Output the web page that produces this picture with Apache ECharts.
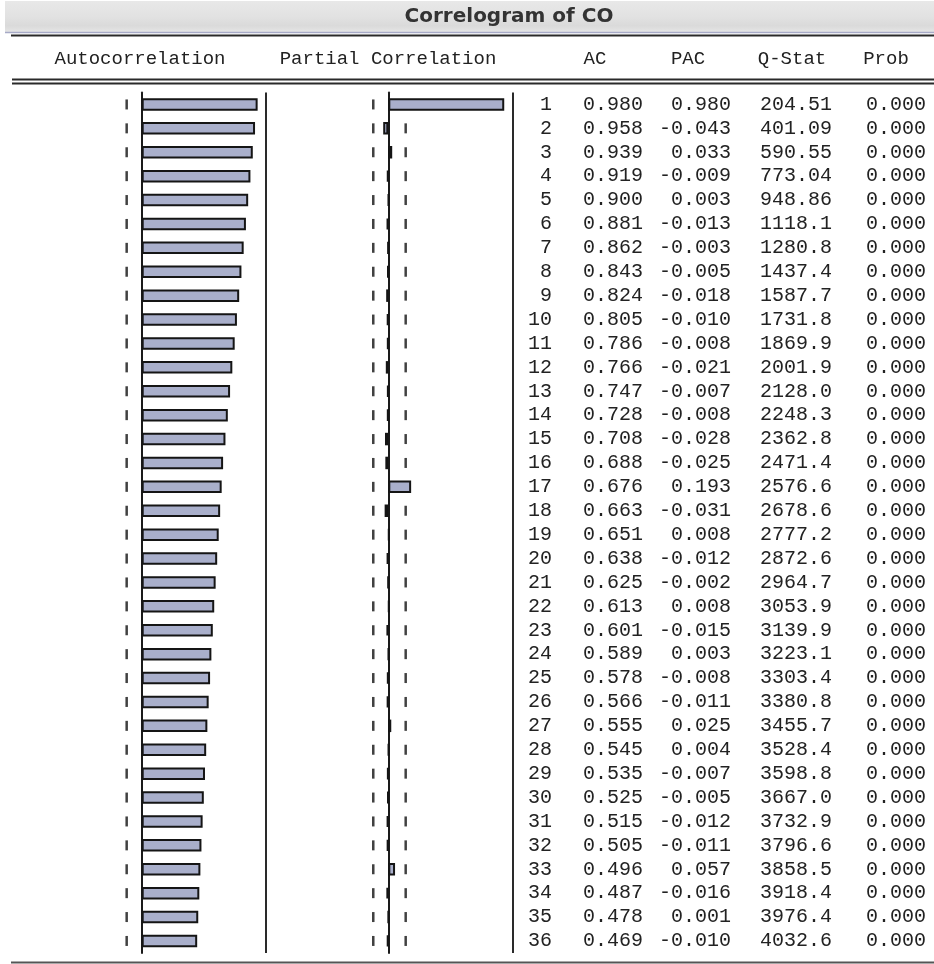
<!DOCTYPE html>
<html>
<head>
<meta charset="utf-8">
<script src="https://cdn.jsdelivr.net/npm/echarts@6/dist/echarts.min.js"></script>
<style>
html,body{margin:0;padding:0;background:#fff;}
#c{width:934px;height:964px;}
</style>
</head>
<body>
<div id="c"></div>
<script>
// ---- data ----
var lags = [1,2,3,4,5,6,7,8,9,10,11,12,13,14,15,16,17,18,19,20,21,22,23,24,25,26,27,28,29,30,31,32,33,34,35,36];
var ac = [0.980,0.958,0.939,0.919,0.900,0.881,0.862,0.843,0.824,0.805,0.786,0.766,0.747,0.728,0.708,0.688,0.676,0.663,0.651,0.638,0.625,0.613,0.601,0.589,0.578,0.566,0.555,0.545,0.535,0.525,0.515,0.505,0.496,0.487,0.478,0.469];
var pac = [0.980,-0.043,0.033,-0.009,0.003,-0.013,-0.003,-0.005,-0.018,-0.010,-0.008,-0.021,-0.007,-0.008,-0.028,-0.025,0.193,-0.031,0.008,-0.012,-0.002,0.008,-0.015,0.003,-0.008,-0.011,0.025,0.004,-0.007,-0.005,-0.012,-0.011,0.057,-0.016,0.001,-0.010];
var qstat = [204.51,401.09,590.55,773.04,948.86,1118.1,1280.8,1437.4,1587.7,1731.8,1869.9,2001.9,2128.0,2248.3,2362.8,2471.4,2576.6,2678.6,2777.2,2872.6,2964.7,3053.9,3139.9,3223.1,3303.4,3380.8,3455.7,3528.4,3598.8,3667.0,3732.9,3796.6,3858.5,3918.4,3976.4,4032.6];
var prob = [0,0,0,0,0,0,0,0,0,0,0,0,0,0,0,0,0,0,0,0,0,0,0,0,0,0,0,0,0,0,0,0,0,0,0,0];
var ciLow = -0.127;
var ciHigh = 0.147;
var titleText = 'Correlogram of CO';
var headers = ['Autocorrelation','Partial Correlation','AC','PAC','Q-Stat','Prob'];

// ---- layout ----
var TOP = 92.5, H = 860.4;
var BAR_FILL = '#a9afcb', INK = '#1a1a1a';
var MONO = '"Liberation Mono","DejaVu Sans Mono",monospace';
var lagLabels = lags.map(String);

function boundsData(){
  var d = [];
  lags.forEach(function(l,i){ d.push([ciLow, i]); d.push([ciHigh, i]); });
  return d;
}
function hiddenValueAxis(g, mn, mx){
  return {gridIndex:g, type:'value', min:mn, max:mx,
    axisLine:{show:false}, axisTick:{show:false}, axisLabel:{show:false}, splitLine:{show:false}};
}
function catAxis(g, showLine){
  return {gridIndex:g, type:'category', data:lagLabels, inverse:true,
    axisLine:{show:showLine, onZero:true, lineStyle:{color:INK, width:2}},
    axisTick:{show:false}, axisLabel:{show:false}, splitLine:{show:false}};
}

var colRight = [552, 643, 731, 832, 926];

var chart = echarts.init(document.getElementById('c'), null, {renderer:'canvas'});
var option = {
  animation:false,
  backgroundColor:'#ffffff',
  grid:[
    {left:23.4, width:236.6, top:TOP, height:H},
    {left:270, width:236.6, top:TOP, height:H},
    {left:513, width:421, top:TOP, height:H}
  ],
  xAxis:[hiddenValueAxis(0,-1,1), hiddenValueAxis(1,-1,1), hiddenValueAxis(2,0,1)],
  yAxis:[catAxis(0,true), catAxis(1,true), catAxis(2,false)],
  series:[
    {type:'scatter', xAxisIndex:0, yAxisIndex:0, data:boundsData(), symbol:'rect', symbolSize:[2.5,10],
     itemStyle:{color:'#111'}, z:2, silent:true},
    {type:'bar', xAxisIndex:0, yAxisIndex:0, data:ac, barWidth:12.5,
     itemStyle:{color:BAR_FILL, borderColor:'#151515', borderWidth:2}, z:3, silent:true},
    {type:'scatter', xAxisIndex:1, yAxisIndex:1, data:boundsData(), symbol:'rect', symbolSize:[2.5,10],
     itemStyle:{color:'#111'}, z:2, silent:true},
    {type:'bar', xAxisIndex:1, yAxisIndex:1, data:pac, barWidth:12.5,
     itemStyle:{color:BAR_FILL, borderColor:'#151515', borderWidth:2}, z:3, silent:true},
    {type:'custom', xAxisIndex:2, yAxisIndex:2, silent:true,
     data:lags.map(function(l,i){ return [0,i]; }),
     renderItem:function(params, api){
       var i = params.dataIndex;
       var y = api.coord([0, i])[1];
       var vals = [String(lags[i]), ac[i].toFixed(3), pac[i].toFixed(3), qstat[i].toPrecision(5), prob[i].toFixed(3)];
       return {type:'group', children: vals.map(function(v,k){
         return {type:'text', x:colRight[k], y:y,
           style:{text:v, fill:'#222', font:'20px '+MONO, align:'right', verticalAlign:'middle'}};
       })};
     }}
  ],
  graphic:[
    {type:'rect', shape:{x:5, y:1, width:929, height:31}, silent:true,
     style:{fill:new echarts.graphic.LinearGradient(0,0,0,1,[
       {offset:0,color:'#e8e8e8'},{offset:0.5,color:'#e2e2e2'},{offset:0.8,color:'#dadada'},{offset:1,color:'#e5e5e5'}])}},
    {type:'line', shape:{x1:5, y1:32.5, x2:934, y2:32.5}, style:{stroke:'#a7aac7', lineWidth:1.5}},
    {type:'line', shape:{x1:11, y1:35.5, x2:934, y2:35.5}, style:{stroke:'#2a2a2a', lineWidth:2}},
    {type:'text', x:509, y:17, style:{text:titleText, fill:'#333', font:'bold 20px "DejaVu Sans",sans-serif', align:'center', verticalAlign:'middle'}},
    {type:'text', x:140, y:59, style:{text:headers[0], fill:'#222', font:'19px '+MONO, align:'center', verticalAlign:'middle'}},
    {type:'text', x:388, y:59, style:{text:headers[1], fill:'#222', font:'19px '+MONO, align:'center', verticalAlign:'middle'}},
    {type:'text', x:595, y:59, style:{text:headers[2], fill:'#222', font:'19px '+MONO, align:'center', verticalAlign:'middle'}},
    {type:'text', x:688, y:59, style:{text:headers[3], fill:'#222', font:'19px '+MONO, align:'center', verticalAlign:'middle'}},
    {type:'text', x:792, y:59, style:{text:headers[4], fill:'#222', font:'19px '+MONO, align:'center', verticalAlign:'middle'}},
    {type:'text', x:886, y:59, style:{text:headers[5], fill:'#222', font:'19px '+MONO, align:'center', verticalAlign:'middle'}},
    {type:'line', shape:{x1:12, y1:79.5, x2:934, y2:79.5}, style:{stroke:'#2a2a2a', lineWidth:1.8}},
    {type:'line', shape:{x1:12, y1:83.5, x2:934, y2:83.5}, style:{stroke:'#2a2a2a', lineWidth:1.8}},
    {type:'line', shape:{x1:266, y1:TOP, x2:266, y2:TOP+H}, style:{stroke:'#2a2a2a', lineWidth:2}},
    {type:'line', shape:{x1:513, y1:TOP, x2:513, y2:TOP+H}, style:{stroke:'#2a2a2a', lineWidth:2}},
    {type:'line', shape:{x1:11, y1:962.5, x2:934, y2:962.5}, style:{stroke:'#555', lineWidth:1.8}}
  ]
};
chart.setOption(option);
</script>
</body>
</html>
